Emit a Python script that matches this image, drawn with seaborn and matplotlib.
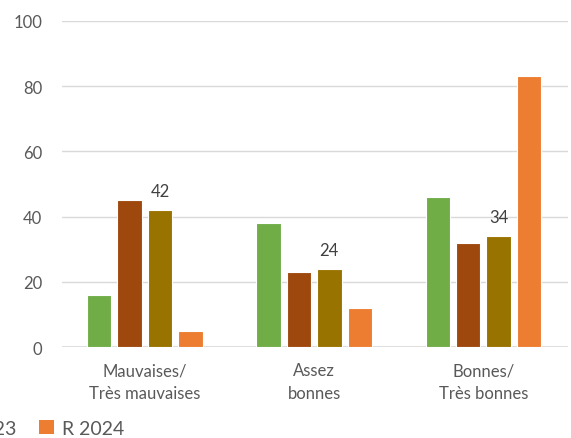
import pandas as pd
import matplotlib.pyplot as plt
import seaborn as sns
from matplotlib.patches import Patch

categories = ["Mauvaises/\nTrès mauvaises", "Assez\nbonnes", "Bonnes/\nTrès bonnes"]
series = ["R 2021", "R 2022", "R 2023", "R 2024"]
values = {
    "R 2021": [16, 38, 46],
    "R 2022": [45, 23, 32],
    "R 2023": [42, 24, 34],
    "R 2024": [5, 12, 83],
}
colors = ["#70AD47", "#9E480E", "#997300", "#ED7D31"]

rows = []
for s in series:
    for c, v in zip(categories, values[s]):
        rows.append({"cat": c, "val": v, "serie": s})
df = pd.DataFrame(rows)

sns.set_style("white")
plt.rcParams["font.family"] = ["Lato", "DejaVu Sans"]
txt = "#595959"

fig = plt.figure(figsize=(5.71, 4.39), dpi=100)
ax = fig.add_axes([0.108, 0.207, 0.887, 0.743])

sns.barplot(data=df, x="cat", y="val", hue="serie", hue_order=series,
            palette=colors, saturation=1, width=0.72, gap=0.2,
            edgecolor="white", linewidth=0.8, legend=False, ax=ax, zorder=3)

ax.bar_label(ax.containers[2], fontsize=12, color="#404040", padding=8)

ax.set_ylim(0, 100)
ax.set_xlim(-0.49, 2.5)
ax.set_yticks(range(0, 101, 20))
ax.yaxis.grid(True, color="#d9d9d9", linewidth=1, zorder=0)
ax.set_axisbelow(True)
for sp in ax.spines.values():
    sp.set_visible(False)
ax.axhline(0, color="#d9d9d9", linewidth=1.2, zorder=1)
ax.tick_params(axis="both", length=0, labelsize=12, colors=txt)
ax.tick_params(axis="x", pad=11)
ax.tick_params(axis="y", pad=14)
for lab in ax.get_xticklabels():
    lab.set_linespacing(1.5)
ax.set_xlabel("")
ax.set_ylabel("")

handles = [Patch(facecolor=c, edgecolor="none") for c in colors]
fig.legend(handles, series, loc="center right", ncol=4, frameon=False,
           bbox_to_anchor=(0.248, 0.022), fontsize=14, labelcolor=txt,
           handlelength=0.75, handleheight=0.75, handletextpad=0.4,
           columnspacing=1.2)

plt.savefig("out.png", dpi=100)
